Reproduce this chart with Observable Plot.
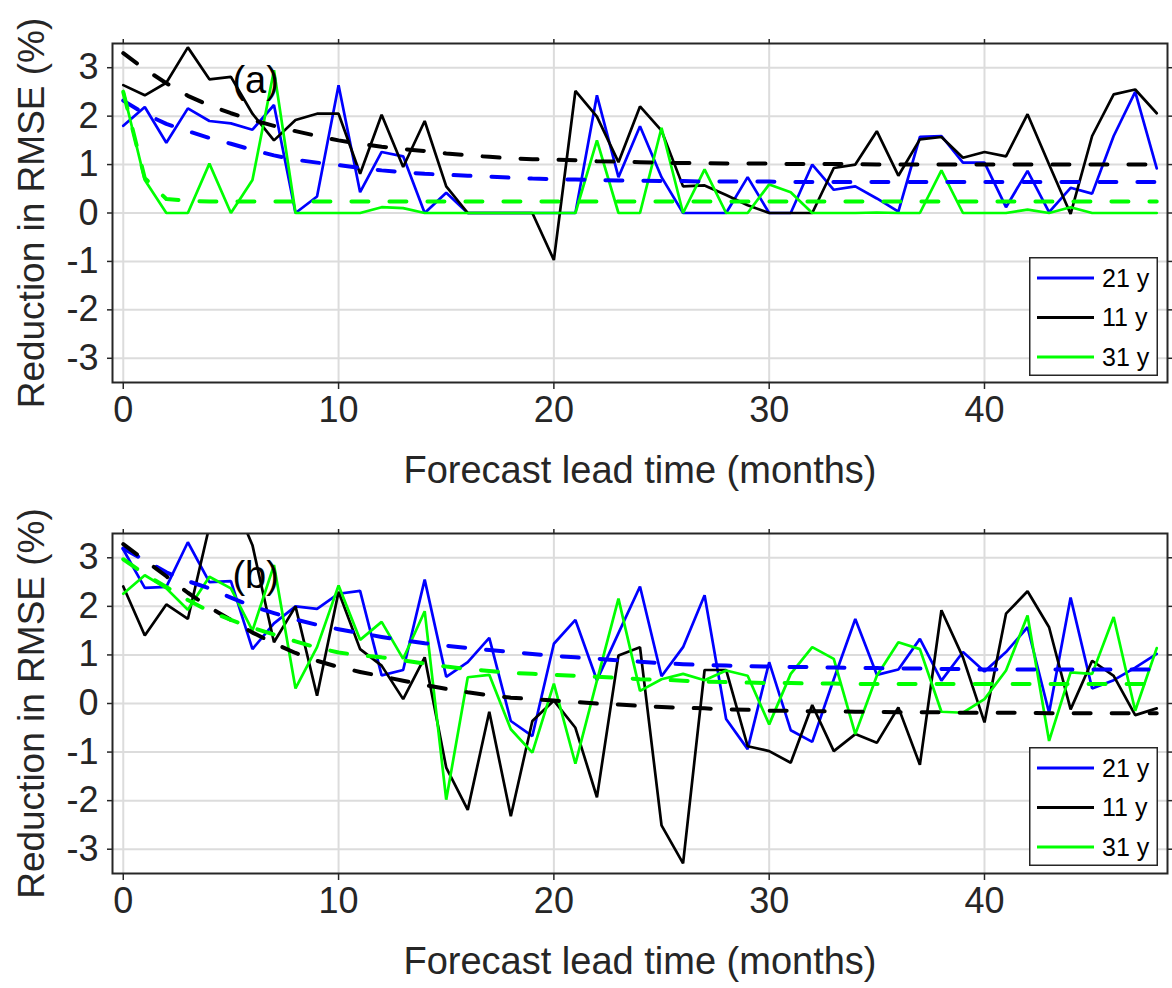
<!DOCTYPE html>
<html>
<head>
<meta charset="utf-8">
<script src="https://cdn.jsdelivr.net/npm/d3@7"></script>
<script src="https://cdn.jsdelivr.net/npm/@observablehq/plot@0.6"></script>
<style>
  html, body { margin: 0; padding: 0; background: #fff; }
  .panel { position: relative; width: 1172px; }
  .legend { position: absolute; }
</style>
</head>
<body>
<div id="chart"></div>
<script>
// ---------------- data ----------------
const months = d3.range(0, 49);              // forecast lead time (months)
const xTicks = [0, 10, 20, 30, 40];
const yTicks = [-3, -2, -1, 0, 1, 2, 3];
const seriesNames = ["21 y", "11 y", "31 y"];
const seriesColors = ["#0000ff", "#000000", "#00ff00"];
const panelLabels = ["(a)", "(b)"];

// Panel (a) — solid lines
const a21 = [1.8, 2.19, 1.45, 2.16, 1.9, 1.85, 1.72, 2.23, 0, 0.34, 2.64, 0.43, 1.26,
             1.17, 0, 0.42, 0, 0, 0, 0, 0, 0, 2.43, 0.74, 1.79, 0.74,
             0, 0, 0, 0.74, 0, 0, 1.0, 0.48, 0.55, 0.3, 0.03, 1.57, 1.59,
             1.04, 1.04, 0.12, 0.87, 0.02, 0.52, 0.4, 1.59, 2.5, 0.92];
const a11 = [2.64, 2.43, 2.69, 3.42, 2.76, 2.81, 2.05, 1.5, 1.92, 2.05, 2.05, 0.81, 2.03,
             0.95, 1.9, 0.55, 0, 0, 0, 0, -0.97, 2.52, 1.99, 1.05, 2.2, 1.7,
             0.55, 0.57, 0.37, 0.16, 0, 0, 0, 0.93, 1.0, 1.69, 0.77, 1.52, 1.57,
             1.14, 1.26, 1.17, 2.04, 1.0, -0.02, 1.59, 2.45, 2.55, 2.06];
const a31 = [2.52, 0.68, 0, 0, 1.02, 0, 0.68, 2.95, 0, 0, 0, 0, 0.12,
             0.1, 0, 0, 0, 0, 0, 0, 0, 0, 1.5, 0, 0, 1.76,
             0, 0.9, 0, 0, 0.59, 0.43, 0, 0, 0, 0.01, 0, 0, 0.88,
             0, 0, 0, 0.07, 0, 0.12, 0, 0, 0, 0];
// Panel (a) — dashed fitted curves
const fa21 = [2.32, 2.05, 1.84, 1.69, 1.55, 1.43, 1.3, 1.19, 1.1, 1.04,
              0.99, 0.93, 0.88, 0.84, 0.81, 0.79, 0.77, 0.75, 0.73, 0.71,
              0.7, 0.69, 0.68, 0.67, 0.67, 0.66, 0.66, 0.65, 0.65, 0.65, 0.65,
              0.64, 0.64, 0.64, 0.64, 0.64, 0.64, 0.64, 0.64, 0.64, 0.64, 0.64, 0.64,
              0.64, 0.64, 0.64, 0.64, 0.64, 0.64];
const fa11 = [3.3, 2.97, 2.68, 2.42, 2.22, 2.06, 1.92, 1.8, 1.69, 1.59,
              1.5, 1.43, 1.37, 1.32, 1.28, 1.23, 1.19, 1.16, 1.13, 1.11,
              1.1, 1.09, 1.07, 1.06, 1.05, 1.04, 1.03, 1.03, 1.02, 1.02,
              1.02, 1.01, 1.01, 1.01, 1.01, 1.0, 1.0, 1.0, 1.0, 1.0,
              1.0, 1.0, 1.0, 1.0, 1.0, 1.0, 1.0, 1.0, 1.0];
const fa31 = [2.5, 0.72, 0.29, 0.25, 0.24, 0.24, 0.24, 0.24, 0.24, 0.24,
              0.24, 0.24, 0.24, 0.24, 0.24, 0.24, 0.24, 0.24, 0.24, 0.24,
              0.24, 0.24, 0.24, 0.24, 0.24, 0.24, 0.24, 0.24, 0.24, 0.24,
              0.24, 0.24, 0.24, 0.24, 0.24, 0.24, 0.24, 0.24, 0.24, 0.24,
              0.24, 0.24, 0.24, 0.24, 0.24, 0.24, 0.24, 0.24, 0.24];

// Panel (b) — solid lines
const b21 = [3.17, 2.38, 2.4, 3.32, 2.5, 2.52, 1.12, 1.65, 2.0, 1.95, 2.26, 2.32, 0.58,
             0.69, 2.55, 0.55, 0.85, 1.35, -0.36, -0.67, 1.23, 1.72, 0.48, 1.45, 2.41, 0.56,
             1.16, 2.23, -0.32, -0.94, 0.85, -0.55, -0.79, 0.5, 1.74, 0.59, 0.7, 1.33, 0.47,
             1.06, 0.66, 1.06, 1.57, -0.19, 2.18, 0.31, 0.48, 0.74, 1.02];
const b11 = [2.41, 1.4, 2.04, 1.74, 3.65, 4.3, 3.26, 1.26, 2.0, 0.16, 2.3, 1.12, 0.78,
             0.09, 0.95, -1.32, -2.19, -0.17, -2.32, -0.36, 0.06, -0.5, -1.93, 0.99, 1.16, -2.51,
             -3.29, 0.69, 0.69, -0.88, -0.98, -1.22, -0.03, -0.98, -0.63, -0.81, -0.08, -1.26, 1.92,
             0.95, -0.39, 1.85, 2.31, 1.57, -0.12, 0.88, 0.57, -0.24, -0.1];
const b31 = [2.26, 2.64, 2.37, 1.93, 2.61, 2.37, 1.5, 2.85, 0.31, 1.16, 2.43, 1.31, 1.68,
             0.92, 1.9, -1.98, 0.54, 0.59, -0.53, -1.01, 0.41, -1.24, 0.47, 2.16, 0.26, 0.5,
             0.61, 0.48, 0.68, 0.57, -0.43, 0.61, 1.16, 0.92, -0.63, 0.57, 1.26, 1.12, -0.17,
             -0.19, 0.09, 0.68, 1.81, -0.77, 0.64, 0.61, 1.78, -0.15, 1.14];
// Panel (b) — dashed fitted curves
const fb21 = [3.19, 2.95, 2.7, 2.52, 2.37, 2.18, 2.0, 1.86, 1.73, 1.62,
              1.53, 1.45, 1.37, 1.3, 1.24, 1.19, 1.14, 1.1, 1.06, 1.02,
              0.98, 0.95, 0.92, 0.89, 0.86, 0.83, 0.81, 0.79, 0.78, 0.77,
              0.76, 0.75, 0.75, 0.74, 0.73, 0.73, 0.72, 0.72, 0.71, 0.71,
              0.7, 0.7, 0.7, 0.7, 0.7, 0.7, 0.7, 0.7, 0.7];
const fb11 = [3.28, 2.95, 2.62, 2.28, 1.98, 1.72, 1.46, 1.24, 1.04, 0.88,
              0.75, 0.65, 0.56, 0.47, 0.38, 0.3, 0.23, 0.17, 0.12, 0.09,
              0.06, 0.03, 0.0, -0.02, -0.05, -0.07, -0.09, -0.1, -0.12, -0.13,
              -0.15, -0.15, -0.16, -0.16, -0.17, -0.17, -0.18, -0.18, -0.18, -0.19,
              -0.19, -0.19, -0.19, -0.2, -0.2, -0.2, -0.2, -0.2, -0.2];
const fb31 = [2.97, 2.66, 2.4, 2.13, 1.9, 1.72, 1.56, 1.42, 1.28, 1.15,
              1.05, 0.99, 0.95, 0.89, 0.82, 0.76, 0.71, 0.67, 0.63, 0.61,
              0.59, 0.57, 0.55, 0.53, 0.5, 0.49, 0.47, 0.45, 0.44, 0.43,
              0.42, 0.42, 0.41, 0.41, 0.4, 0.4, 0.4, 0.4, 0.4, 0.4,
              0.4, 0.4, 0.4, 0.4, 0.4, 0.4, 0.4, 0.4, 0.4];

// ---------------- drawing ----------------
const FONT = "'Liberation Sans', Arial, Helvetica, sans-serif";
const TXT = "#262626";

const panels = [
  {label: panelLabels[0], solid: [a21, a11, a31], dashed: [fa21, fa11, fa31],
   height: 493, marginTop: 43, marginBottom: 111, labelPos: [6.15, 2.72]},
  {label: panelLabels[1], solid: [b21, b11, b31], dashed: [fb21, fb11, fb31],
   height: 495, marginTop: 40, marginBottom: 115, labelPos: [6.15, 2.62]}
];

const toRows = (vals) => months.map((m, i) => ({m, v: vals[i]}));

const root = document.getElementById("chart");

panels.forEach(p => {
  const marks = [
    Plot.gridX(xTicks, {stroke: "#dcdcdc", strokeOpacity: 1, strokeWidth: 2}),
    Plot.gridY(yTicks, {stroke: "#dcdcdc", strokeOpacity: 1, strokeWidth: 2})
  ];
  p.solid.forEach((vals, k) => {
    marks.push(Plot.line(toRows(vals), {x: "m", y: "v", stroke: seriesColors[k],
      strokeWidth: 2.7, clip: true, strokeLinejoin: "miter"}));
  });
  p.dashed.forEach((vals, k) => {
    marks.push(Plot.line(toRows(vals), {x: "m", y: "v", stroke: seriesColors[k],
      strokeWidth: 4, strokeDasharray: "17,21", clip: true}));
  });
  marks.push(
    Plot.frame({stroke: TXT, strokeWidth: 2}),
    Plot.axisX(xTicks, {anchor: "bottom", tickSize: 7, tickPadding: 7, fontSize: 36,
      label: null, stroke: TXT, strokeWidth: 1.5, fill: TXT, tickFormat: d => String(d)}),
    Plot.axisX(xTicks, {anchor: "top", tickSize: 5, label: null, stroke: TXT,
      strokeWidth: 1.5, tickFormat: () => ""}),
    Plot.axisY(yTicks, {anchor: "left", tickSize: 5, tickPadding: 9, fontSize: 36,
      label: null, stroke: TXT, strokeWidth: 1.5, fill: TXT, tickFormat: d => String(d)}),
    Plot.axisY(yTicks, {anchor: "right", tickSize: 5, label: null, stroke: TXT,
      strokeWidth: 1.5, tickFormat: () => ""}),
    Plot.text([p.label], {x: () => p.labelPos[0], y: () => p.labelPos[1], text: d => d,
      fontSize: 38, fill: "#000"}),
    Plot.text(["Forecast lead time (months)"], {frameAnchor: "bottom", dy: 88,
      textAnchor: "middle", lineAnchor: "middle", fontSize: 38, fill: TXT}),
    Plot.text(["Reduction in RMSE (%)"], {frameAnchor: "left", dx: -80, rotate: -90,
      textAnchor: "middle", lineAnchor: "middle", fontSize: 37, fill: TXT})
  );

  const svg = Plot.plot({
    width: 1172,
    height: p.height,
    marginLeft: 112,
    marginRight: 5,
    marginTop: p.marginTop,
    marginBottom: p.marginBottom,
    x: {domain: [-0.5, 48.5]},
    y: {domain: [-3.5, 3.5]},
    style: {fontFamily: FONT, background: "white", color: TXT, overflow: "visible"},
    marks
  });

  const wrap = document.createElement("div");
  wrap.className = "panel";
  wrap.style.height = p.height + "px";
  wrap.appendChild(svg);

  // legend (inside the axes, lower right)
  const lw = 129, lh = 119;
  const lg = d3.create("svg").attr("class", "legend")
    .attr("width", lw).attr("height", lh)
    .style("left", "1029px")
    .style("top", (p.marginTop + 340 - lh - 7) + "px");
  lg.append("rect").attr("x", 0.75).attr("y", 0.75).attr("width", lw - 1.5).attr("height", lh - 1.5)
    .attr("fill", "white").attr("stroke", TXT).attr("stroke-width", 1.5);
  seriesNames.forEach((name, k) => {
    const yy = 21 + k * 39.5;
    lg.append("line").attr("x1", 8).attr("x2", 65).attr("y1", yy).attr("y2", yy)
      .attr("stroke", seriesColors[k]).attr("stroke-width", 3.2);
    lg.append("text").attr("x", 73).attr("y", yy).attr("dy", "0.35em")
      .attr("font-family", FONT).attr("font-size", 25).attr("fill", "#000").text(name);
  });
  wrap.appendChild(lg.node());
  root.appendChild(wrap);
});
</script>
</body>
</html>
